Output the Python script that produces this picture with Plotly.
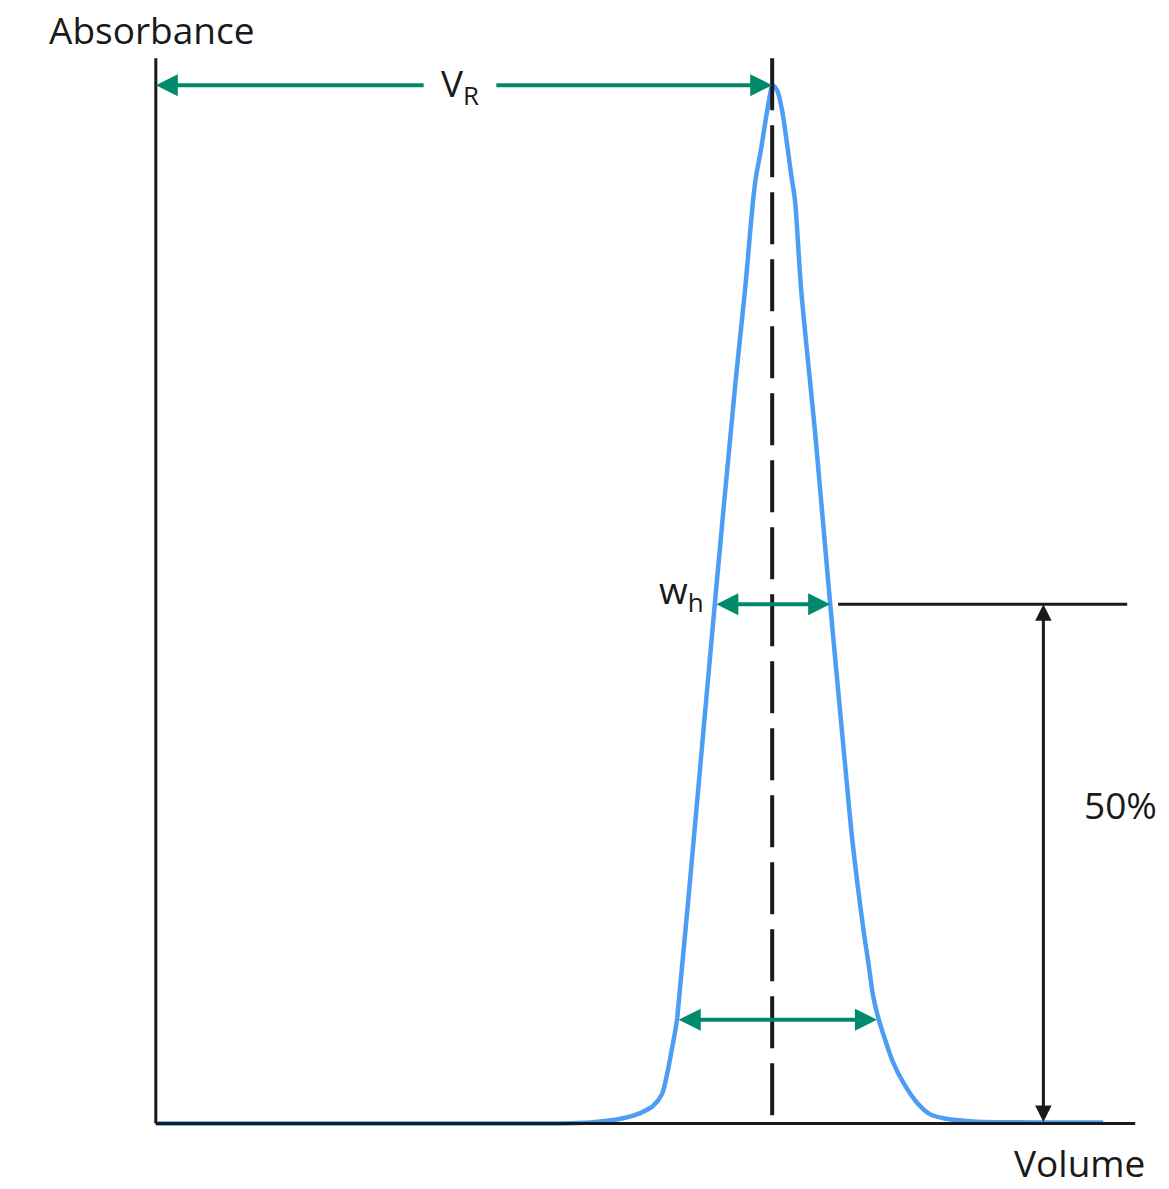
import plotly.graph_objects as go

# elution profile (volume in arbitrary units, absorbance normalised to peak)
volume = [0.0, 6.56, 7.05, 7.58, 7.86, 8.07, 8.21, 8.30, 8.38, 8.43,
          8.46, 8.77, 9.07, 9.40, 9.56, 9.69, 9.74, 9.81, 9.92, 9.97, 10.0,
          10.08, 10.16, 10.26, 10.31, 10.37, 10.47, 10.70, 10.94, 11.19, 11.30,
          11.48, 11.56, 11.64, 11.72, 11.83, 11.96, 12.13, 12.35, 12.56, 12.78,
          13.26, 15.37]
absorbance = [0.0, 0.0, 0.001, 0.005, 0.010, 0.017, 0.028, 0.049, 0.074, 0.090,
              0.102, 0.302, 0.501, 0.711, 0.803, 0.889, 0.913, 0.935, 0.976, 0.992, 1.0,
              0.995, 0.976, 0.935, 0.913, 0.889, 0.803, 0.663, 0.501, 0.341, 0.273,
              0.187, 0.155, 0.122, 0.102, 0.081, 0.059, 0.039, 0.020, 0.009, 0.005,
              0.002, 0.001]

v_r = 10.0            # retention volume (peak)
peak = 1.0
half = 0.5
wh_edges = [9.07, 10.94]      # width at half height
base_level = 0.1
base_edges = [8.46, 11.70]    # width near base
vr_gap = [4.37, 5.50]         # gap in V_R arrow for the label
x_end = 15.89
y_top = 1.026
half_line = [11.07, 15.76]
pct_x = 14.40

GREEN = "#008a6c"
BLUE = "#4c9ef5"
INK = "#1a1a1a"
FONT = "Open Sans, Liberation Sans, Arial, sans-serif"

fig = go.Figure()

fig.add_trace(go.Scatter(
    x=volume, y=absorbance, mode="lines",
    line=dict(color=BLUE, width=4.5, shape="spline", smoothing=0.8),
    hoverinfo="skip", showlegend=False,
))

shapes = [
    # axes
    dict(type="line", x0=0, x1=0, y0=0, y1=y_top, line=dict(color=INK, width=3)),
    dict(type="line", x0=0, x1=x_end, y0=0, y1=0, line=dict(color=INK, width=3)),
    # retention volume marker
    dict(type="line", x0=v_r, x1=v_r, y0=y_top, y1=0,
         line=dict(color=INK, width=4, dash="52px,15px")),
    # 50% reference line
    dict(type="line", x0=half_line[0], x1=half_line[1], y0=half, y1=half,
         line=dict(color=INK, width=3)),
]
for s in shapes:
    s.update(xref="x", yref="y", layer="above")
fig.update_layout(shapes=shapes)


def arrow(x, y, ax, ay, color, width, side="end"):
    fig.add_annotation(
        x=x, y=y, ax=ax, ay=ay, xref="x", yref="y", axref="x", ayref="y",
        text="", showarrow=True, arrowhead=2, startarrowhead=2, arrowsize=1.1,
        startarrowsize=1.1, arrowwidth=width, arrowcolor=color, arrowside=side,
        standoff=0, startstandoff=0,
    )


# V_R arrows
arrow(0, peak, vr_gap[0], peak, GREEN, 4)
arrow(v_r, peak, vr_gap[1], peak, GREEN, 4)
# width at half height and near base
arrow(wh_edges[1], half, wh_edges[0], half, GREEN, 4, "end+start")
arrow(base_edges[1], base_level, base_edges[0], base_level, GREEN, 4, "end+start")
# 50% height arrow
arrow(pct_x, half, pct_x, 0, INK, 3, "end+start")

txt = dict(family=FONT, size=37, color=INK)
fig.add_annotation(x=(vr_gap[0] + vr_gap[1]) / 2, y=peak, xref="x", yref="y",
                   text="V<sub>R</sub>", showarrow=False, font=txt,
                   xanchor="center", yanchor="middle")
fig.add_annotation(x=wh_edges[0] - 0.15, y=half + 0.012, xref="x", yref="y",
                   text="w<sub>h</sub>", showarrow=False, font=txt,
                   xanchor="right", yanchor="middle")
fig.add_annotation(x=15.65, y=0.307, xref="x", yref="y", text="50%",
                   showarrow=False, font=txt, xanchor="center", yanchor="middle")
fig.add_annotation(x=0.026, y=1.022, xref="paper", yref="paper", text="Absorbance",
                   showarrow=False, font=txt, xanchor="center", yanchor="middle")
fig.add_annotation(x=0.939, y=0.002, xref="paper", yref="paper", text="Volume",
                   showarrow=False, font=txt, xanchor="center", yanchor="middle")

fig.update_layout(
    width=1169, height=1189,
    margin=dict(l=125.2, r=27.4, t=53.8, b=23.5),
    plot_bgcolor="white", paper_bgcolor="white",
    xaxis=dict(range=[-0.5, 16.0], visible=False, fixedrange=True),
    yaxis=dict(range=[-0.04, 1.03], visible=False, fixedrange=True),
    showlegend=False,
)

# drop the default body margin so the figure fills the window exactly
fig.write_html("out.html", config={"displayModeBar": False},
               post_script="document.body.style.margin = '0';")
